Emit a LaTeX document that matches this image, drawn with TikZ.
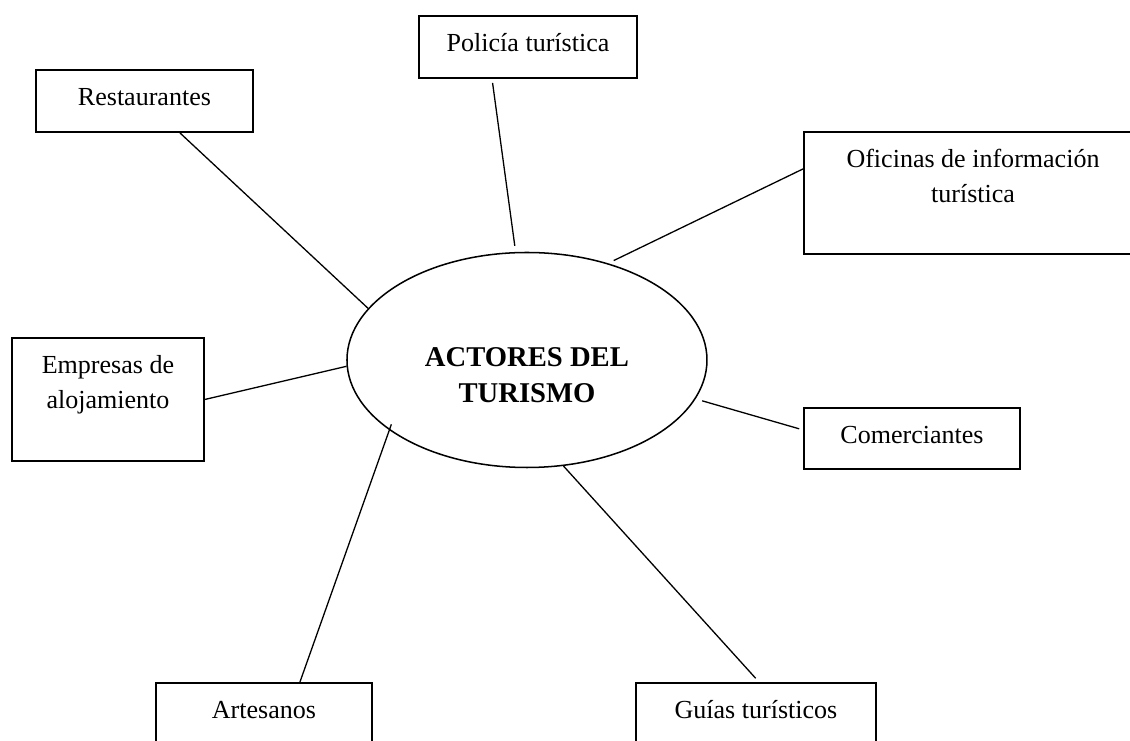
\documentclass[tikz,border=0pt,12pt]{standalone}
\usepackage{fontspec}
\setmainfont{Liberation Serif}
\usepackage{tikz}
\usetikzlibrary{shapes.geometric,positioning,calc}

\newcommand{\dosrenglones}[2]{\begin{tabular}[t]{@{}c@{}}#1\\#2\end{tabular}}

\tikzset{
    caja/.style={draw, line width=0.9pt, anchor=north west, inner sep=0pt,
        text height=0.575cm, font=\fontsize{12}{16.1}\selectfont},
    enlace/.style={line width=0.6pt}
}

\begin{document}
\begin{tikzpicture}
    \useasboundingbox (0,0) rectangle (18.306,12.004);

    % centro
    \node [draw, ellipse, line width=0.7pt, minimum width=5.832cm, minimum height=3.483cm, inner sep=0pt] (centro) at (8.537,6.172) {};
    \node [anchor=base, font=\fontsize{13.2}{16.6}\selectfont\bfseries] (titulo) at (8.537,6.059) {\dosrenglones{ACTORES DEL}{TURISMO}};

    % actores
    \node [caja, minimum width=3.515cm, text depth=0.429cm] (rest) at (0.567,10.886) {Restaurantes};
    \node [caja, minimum width=3.532cm, text depth=0.429cm] (pol) at (6.772,11.761) {Policía turística};
    \node [caja, minimum width=5.476cm, text depth=1.401cm] (ofi) at (13.009,9.882) {\dosrenglones{Oficinas de información}{turística}};
    \node [caja, minimum width=3.110cm, text depth=1.418cm] (emp) at (0.178,6.545) {\dosrenglones{Empresas de}{alojamiento}};
    \node [caja, minimum width=3.499cm, text depth=0.413cm] (com) at (13.009,5.411) {Comerciantes};
    \node [caja, minimum width=3.499cm, text depth=0.559cm] (art) at (2.511,0.956) {Artesanos};
    \node [caja, minimum width=3.888cm, text depth=0.559cm] (gui) at (10.287,0.956) {Guías turísticos};

    % enlaces
    \draw [enlace] ([xshift=0.575cm]rest.south) -- (centro.162);
    \draw [enlace, shorten <=0.065cm, shorten >=0.1cm] ([xshift=-0.583cm]pol.south) -- (centro.96);
    \draw [enlace, shorten >=0.1cm] ([yshift=0.389cm]ofi.west) -- (centro.50.6);
    \draw [enlace] (emp.east) -- (centro.182.5);
    \draw [enlace, shorten <=0.065cm, shorten >=0.11cm] ([yshift=0.138cm]com.west) -- (centro.347.8);
    \draw [enlace, shorten >=-0.1cm] ([xshift=0.583cm]art.north) -- (centro.207.1);
    \draw [enlace, shorten <=0.08cm] ([xshift=0.049cm]gui.north) -- (centro.289.1);
\end{tikzpicture}
\end{document}
